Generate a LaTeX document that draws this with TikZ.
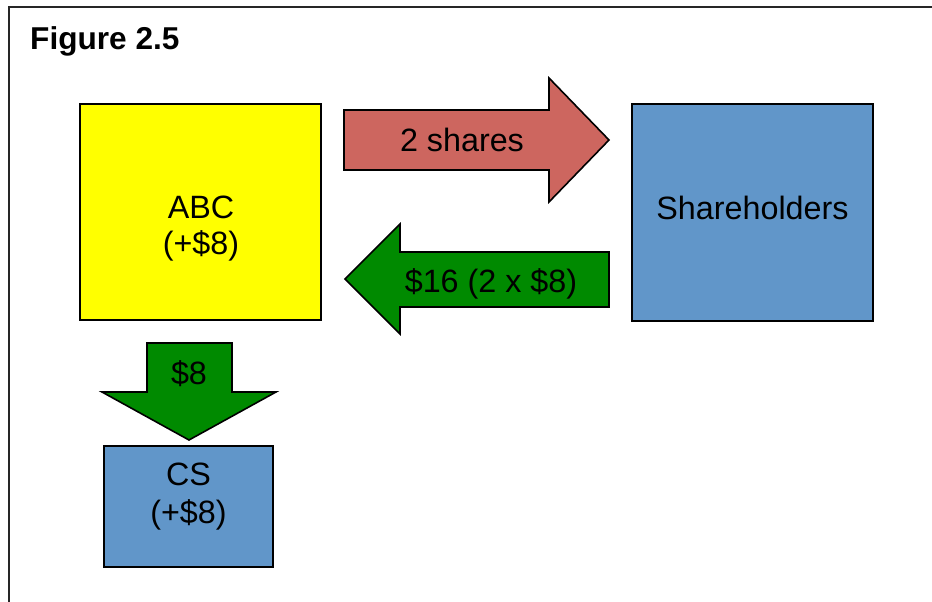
\documentclass[tikz,border=0pt]{standalone}
\usepackage{fontspec}
\setmainfont{Liberation Sans}
\definecolor{boxyellow}{RGB}{255,255,0}
\definecolor{boxblue}{RGB}{97,150,201}
\definecolor{arrred}{RGB}{205,102,95}
\definecolor{arrgreen}{RGB}{0,138,0}
\begin{document}
\begin{tikzpicture}[x=1pt,y=-1pt,
  lbl/.style={font=\fontsize{32.3}{38}\selectfont, anchor=base, inner sep=0pt},
  boxstyle/.style={draw=black, line width=2pt, inner sep=0pt, outer sep=0pt, rectangle},
  arrstyle/.style={draw=black, line width=1.6pt, line join=miter}]
\useasboundingbox (0,0) rectangle (932,602);
\fill[white] (0,0) rectangle (932,602);
\draw[line width=2.4pt, draw=black!85] (9,7) rectangle (960,640);
\node[font=\bfseries\fontsize{31.6}{37}\selectfont, anchor=base west, inner sep=0pt] (title) at (30,49.5) {Figure 2.5};
% boxes
\node[boxstyle, fill=boxyellow, minimum width=241pt, minimum height=216pt] (abc) at (200.5,212) {};
\node[boxstyle, fill=boxblue, minimum width=241pt, minimum height=217pt] (sh) at (752.5,212.5) {};
\node[boxstyle, fill=boxblue, minimum width=169pt, minimum height=121pt] (cs) at (188.5,506.5) {};
% arrows
\path[arrstyle, fill=arrred] (344,110) -- (549,110) -- (549,78) -- (609,140) -- (549,202) -- (549,170) -- (344,170) -- cycle;
\path[arrstyle, fill=arrgreen] (609,252) -- (400,252) -- (400,224) -- (345,279) -- (400,334) -- (400,307) -- (609,307) -- cycle;
\path[arrstyle, fill=arrgreen] (147,343) -- (232,343) -- (232,392) -- (276,392) -- (189,440) -- (102,392) -- (147,392) -- cycle;
% labels
\node[lbl] (abcname) at (201,218) {ABC};
\node[lbl] (abcval) at (201,254) {(+\$8)};
\node[lbl] (shname) at (752.5,219) {Shareholders};
\node[lbl] (csname) at (188.5,485) {CS};
\node[lbl] (csval) at (188.5,523) {(+\$8)};
\node[lbl] (shares) at (462,151) {2 shares};
\node[lbl] (pay) at (491,292) {\$16 (2 x \$8)};
\node[lbl] (div) at (189,384) {\$8};
\end{tikzpicture}
\end{document}
